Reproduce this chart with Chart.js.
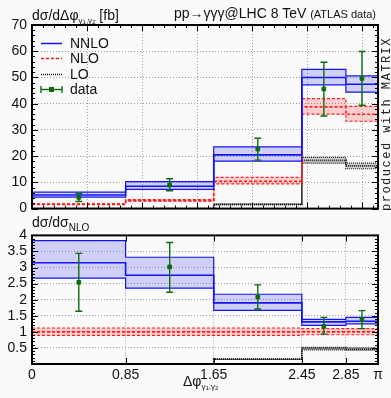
<!DOCTYPE html>
<html>
<head>
<meta charset="utf-8">
<script src="https://cdn.jsdelivr.net/npm/chart.js@4.4.1/dist/chart.umd.min.js"></script>
<style>
  html, body { margin: 0; padding: 0; background: #fafafa; }
  #wrap { position: relative; width: 391px; height: 398px; font-family: "Liberation Sans", Arial, sans-serif; color: #111; }
  canvas { position: absolute; left: 0; }
  .lbl { position: absolute; white-space: nowrap; font-size: 14px; line-height: 14px; }
  .s1 { font-size: 8px; position: relative; top: 3px; }
  .s2 { font-size: 6px; position: relative; top: 1px; }
  .sn { font-size: 10px; position: relative; top: 4px; }
  .small { font-size: 11px; }
  #matrix { position: absolute; left: 381px; top: 37px; writing-mode: vertical-rl; transform: rotate(180deg);
            font-family: "Liberation Mono", "DejaVu Sans Mono", monospace; font-size: 12px; letter-spacing: 1.5px; line-height: 12px; color: #222; }
</style>
</head>
<body>
<div id="wrap">
  <canvas id="main" width="391" height="222" style="top:0"></canvas>
  <canvas id="ratio" width="391" height="176" style="top:222px"></canvas>
  <div class="lbl" style="left:32px; top:8px">dσ/dΔφ<span class="s1">γ<span class="s2">1</span>,γ<span class="s2">2</span></span> [fb]</div>
  <div class="lbl" style="right:15px; top:6px">pp→γγγ@LHC 8 TeV <span class="small">(ATLAS data)</span></div>
  <div class="lbl" style="left:32px; top:215px">dσ/dσ<span class="sn">NLO</span></div>
  <div class="lbl" style="left:183px; top:374px">Δφ<span class="s1">γ<span class="s2">1</span>,γ<span class="s2">2</span></span></div>
  <div id="matrix">produced with MATRIX</div>
</div>
<script>
// bins in delta phi
const binEdges = [0, 0.85, 1.65, 2.45, 2.85, Math.PI];
const xTickLabels = ['0', '0.85', '1.65', '2.45', '2.85', 'π'];
const xGridTop = [0.5, 1, 1.5, 2, 2.5, 3];

// main panel [fb]
const nnlo   = [5.2, 8.5, 20.5, 50.0, 47.4];
const nnloLo = [4.4, 7.3, 18.1, 47.2, 44.4];
const nnloHi = [6.3, 10.3, 23.5, 53.1, 50.6];
const nlo    = [1.65, 3.1, 10.4, 38.8, 36.0];
const nloLo  = [1.5, 2.8, 9.4, 36.0, 33.3];
const nloHi  = [1.85, 3.45, 11.9, 41.9, 39.0];
const lo     = [0, 0, 1.6, 18.4, 16.3];
const loLo   = [0, 0, 1.5, 17.3, 15.2];
const loHi   = [0, 0, 1.7, 19.5, 17.3];
const dataX  = [0.425, 1.25, 2.05, 2.65, 2.996];
const dataY  = [4.3, 9.0, 22.7, 45.6, 49.6];
const dataLo = [2.7, 6.8, 18.5, 35.3, 39.4];
const dataHi = [5.8, 11.4, 26.8, 55.8, 59.9];

// ratio panel (to NLO)
const rNnlo   = [3.15, 2.76, 1.90, 1.31, 1.33];
const rNnloLo = [2.67, 2.36, 1.67, 1.20, 1.25];
const rNnloHi = [3.84, 3.32, 2.17, 1.39, 1.45];
const rNlo    = [1, 1, 1, 1, 1];
const rNloLo  = [0.89, 0.89, 0.89, 0.91, 0.91];
const rNloHi  = [1.12, 1.12, 1.12, 1.10, 1.10];
const rLo     = [0, 0, 0.15, 0.48, 0.46];
const rLoLo   = [0, 0, 0.14, 0.44, 0.43];
const rLoHi   = [0, 0, 0.16, 0.52, 0.50];
const rData   = [2.54, 3.02, 2.08, 1.17, 1.38];
const rDataLo = [1.64, 2.23, 1.71, 0.93, 1.10];
const rDataHi = [3.44, 3.78, 2.46, 1.45, 1.66];

const BLUE = '#1414f0', RED = '#ff1c1c', BLACK = '#111111', GREEN = '#0b6e0b';

Chart.defaults.font.family = '"Liberation Sans", Arial, sans-serif';
Chart.defaults.font.size = 14;
Chart.defaults.color = '#111';

function steps(vals) {
    return binEdges.map((e, i) => ({ x: e, y: vals[Math.min(i, vals.length - 1)] }));
}
function errBars(xs, los, his) {
    const pts = [];
    xs.forEach((x, i) => pts.push({ x: x, y: los[i] }, { x: x, y: his[i] }, { x: x, y: null }));
    return pts;
}
function capPoints(xs, los, his) {
    const pts = [];
    xs.forEach((x, i) => pts.push({ x: x, y: los[i] }, { x: x, y: his[i] }));
    return pts;
}

function theorySets(central, low, high, color, fillColor, dash, order) {
    const base = { stepped: true, pointRadius: 0, borderColor: color, borderDash: dash, order: order };
    return [
        Object.assign({}, base, { data: steps(high), borderWidth: 1.2, backgroundColor: fillColor, fill: '+1' }),
        Object.assign({}, base, { data: steps(low), borderWidth: 1.2, fill: false }),
        Object.assign({}, base, { data: steps(central), borderWidth: 1.6, fill: false })
    ];
}

function dataSets(ys, los, his) {
    return [
        { data: dataX.map((x, i) => ({ x: x, y: ys[i] })), showLine: false, pointStyle: 'rect', pointRadius: 2.6,
          pointBackgroundColor: GREEN, pointBorderColor: GREEN, order: 0 },
        { data: errBars(dataX, los, his), borderColor: GREEN, borderWidth: 1.4, pointRadius: 0, spanGaps: false, order: 0 },
        { data: capPoints(dataX, los, his), showLine: false, pointStyle: 'line', pointRadius: 3.5,
          pointBorderColor: GREEN, pointBorderWidth: 1.4, order: 0 }
    ];
}

// frame with inward ticks on all sides
const framePlugin = {
    id: 'frame',
    afterDatasetsDraw(chart, args, o) {
        const ctx = chart.ctx, a = chart.chartArea, xs = chart.scales.x, ys = chart.scales.y;
        ctx.save();
        ctx.strokeStyle = '#000';
        ctx.lineWidth = 1;
        function line(x1, y1, x2, y2) { ctx.beginPath(); ctx.moveTo(x1, y1); ctx.lineTo(x2, y2); ctx.stroke(); }
        function yTick(v, len) {
            const y = Math.round(ys.getPixelForValue(v)) + 0.5;
            line(a.left, y, a.left + len, y); line(a.right, y, a.right - len, y);
        }
        function xTick(v, len) {
            const x = Math.round(xs.getPixelForValue(v)) + 0.5;
            line(x, a.bottom, x, a.bottom - len); line(x, a.top, x, a.top + len);
        }
        for (let v = ys.min; v <= ys.max + 1e-9; v += o.yMinor) yTick(v, 3);
        for (let v = ys.min; v <= ys.max + 1e-9; v += o.yMajor) yTick(v, 6);
        if (o.xMinor) for (let v = o.xMinor; v < xs.max; v += o.xMinor) xTick(v, 3);
        o.xMajor.forEach(v => xTick(v, 6));
        ctx.lineWidth = 2;
        ctx.strokeRect(a.left, a.top, a.right - a.left, a.bottom - a.top);
        ctx.restore();
    }
};

// legend drawn inside top panel
const legendPlugin = {
    id: 'boxLegend',
    afterDraw(chart) {
        const ctx = chart.ctx, a = chart.chartArea;
        const x1 = a.left + 9, x2 = a.left + 30, tx = a.left + 38;
        const rows = [
            { label: 'NNLO', color: BLUE, dash: [], y: a.top + 18 },
            { label: 'NLO', color: RED, dash: [3, 2], y: a.top + 33 },
            { label: 'LO', color: BLACK, dash: [1, 1], y: a.top + 49 },
            { label: 'data', color: GREEN, dash: [], y: a.top + 64, data: true }
        ];
        ctx.save();
        ctx.font = '14px "Liberation Sans", Arial, sans-serif';
        ctx.textBaseline = 'middle';
        rows.forEach(r => {
            ctx.strokeStyle = r.color;
            ctx.lineWidth = r.data ? 1.4 : 1.5;
            ctx.setLineDash(r.dash);
            ctx.beginPath(); ctx.moveTo(x1, r.y + 0.5); ctx.lineTo(x2, r.y + 0.5); ctx.stroke();
            if (r.data) {
                ctx.beginPath();
                ctx.moveTo(x1, r.y - 3); ctx.lineTo(x1, r.y + 4);
                ctx.moveTo(x2, r.y - 3); ctx.lineTo(x2, r.y + 4);
                ctx.stroke();
                ctx.fillStyle = GREEN;
                ctx.fillRect((x1 + x2) / 2 - 2.5, r.y - 2, 5, 5);
            }
            ctx.setLineDash([]);
            ctx.fillStyle = '#111';
            ctx.fillText(r.label, tx, r.y + 1);
        });
        ctx.restore();
    }
};

const gridColor = '#a0a0a0';

new Chart(document.getElementById('main').getContext('2d'), {
    type: 'line',
    data: {
        datasets: [].concat(
            dataSets(dataY, dataLo, dataHi),
            theorySets(nnlo, nnloLo, nnloHi, BLUE, 'rgba(20,20,240,0.19)', [], 1),
            theorySets(nlo, nloLo, nloHi, RED, 'rgba(255,20,20,0.19)', [3, 2], 2),
            theorySets(lo, loLo, loHi, BLACK, 'rgba(0,0,0,0.16)', [1, 1], 3)
        )
    },
    options: {
        responsive: false,
        animation: false,
        devicePixelRatio: 1,
        layout: { padding: { top: 25, right: 13, bottom: 8, left: 0 } },
        plugins: {
            legend: { display: false },
            tooltip: { enabled: false },
            frame: { yMajor: 10, yMinor: 2, xMajor: xGridTop, xMinor: 0.1 }
        },
        scales: {
            x: {
                type: 'linear', min: 0, max: Math.PI,
                afterBuildTicks: s => { s.ticks = xGridTop.map(v => ({ value: v })); },
                afterFit: s => { s.height = 0; },
                ticks: { display: false },
                grid: { color: gridColor, drawTicks: false, lineWidth: 1 },
                border: { display: false, dash: [1, 2] }
            },
            y: {
                min: 0, max: 70,
                afterFit: s => { s.width = 32; },
                ticks: { stepSize: 10, padding: 5, autoSkip: false },
                grid: { color: c => (c.tick.value === 0 || c.tick.value === 70) ? 'rgba(0,0,0,0)' : gridColor, drawTicks: false },
                border: { display: false, dash: [1, 2] }
            }
        }
    },
    plugins: [framePlugin, legendPlugin]
});

new Chart(document.getElementById('ratio').getContext('2d'), {
    type: 'line',
    data: {
        datasets: [].concat(
            dataSets(rData, rDataLo, rDataHi),
            theorySets(rNnlo, rNnloLo, rNnloHi, BLUE, 'rgba(20,20,240,0.19)', [], 1),
            theorySets(rNlo, rNloLo, rNloHi, RED, 'rgba(255,20,20,0.19)', [3, 2], 2),
            theorySets(rLo, rLoLo, rLoHi, BLACK, 'rgba(0,0,0,0.16)', [1, 1], 3)
        )
    },
    options: {
        responsive: false,
        animation: false,
        devicePixelRatio: 1,
        layout: { padding: { top: 13, right: 13, bottom: 0, left: 0 } },
        plugins: {
            legend: { display: false },
            tooltip: { enabled: false },
            frame: { yMajor: 0.5, yMinor: 0.1, xMajor: binEdges.slice(1, 5), xMinor: 0 }
        },
        scales: {
            x: {
                type: 'linear', min: 0, max: Math.PI,
                afterBuildTicks: s => { s.ticks = binEdges.map(v => ({ value: v })); },
                afterFit: s => { s.height = 34; },
                ticks: { padding: 3, autoSkip: false, maxRotation: 0, callback: (v, i) => xTickLabels[i] },
                grid: { color: c => (c.index === 0 || c.index === binEdges.length - 1) ? 'rgba(0,0,0,0)' : gridColor, drawTicks: false },
                border: { display: false, dash: [1, 2] }
            },
            y: {
                min: 0, max: 4,
                afterFit: s => { s.width = 32; },
                ticks: { stepSize: 0.5, padding: 5, autoSkip: false, callback: v => v === 0 ? '' : String(v) },
                grid: { color: c => (c.tick.value === 0 || c.tick.value === 4) ? 'rgba(0,0,0,0)' : gridColor, drawTicks: false },
                border: { display: false, dash: [1, 2] }
            }
        }
    },
    plugins: [framePlugin]
});
</script>
</body>
</html>
